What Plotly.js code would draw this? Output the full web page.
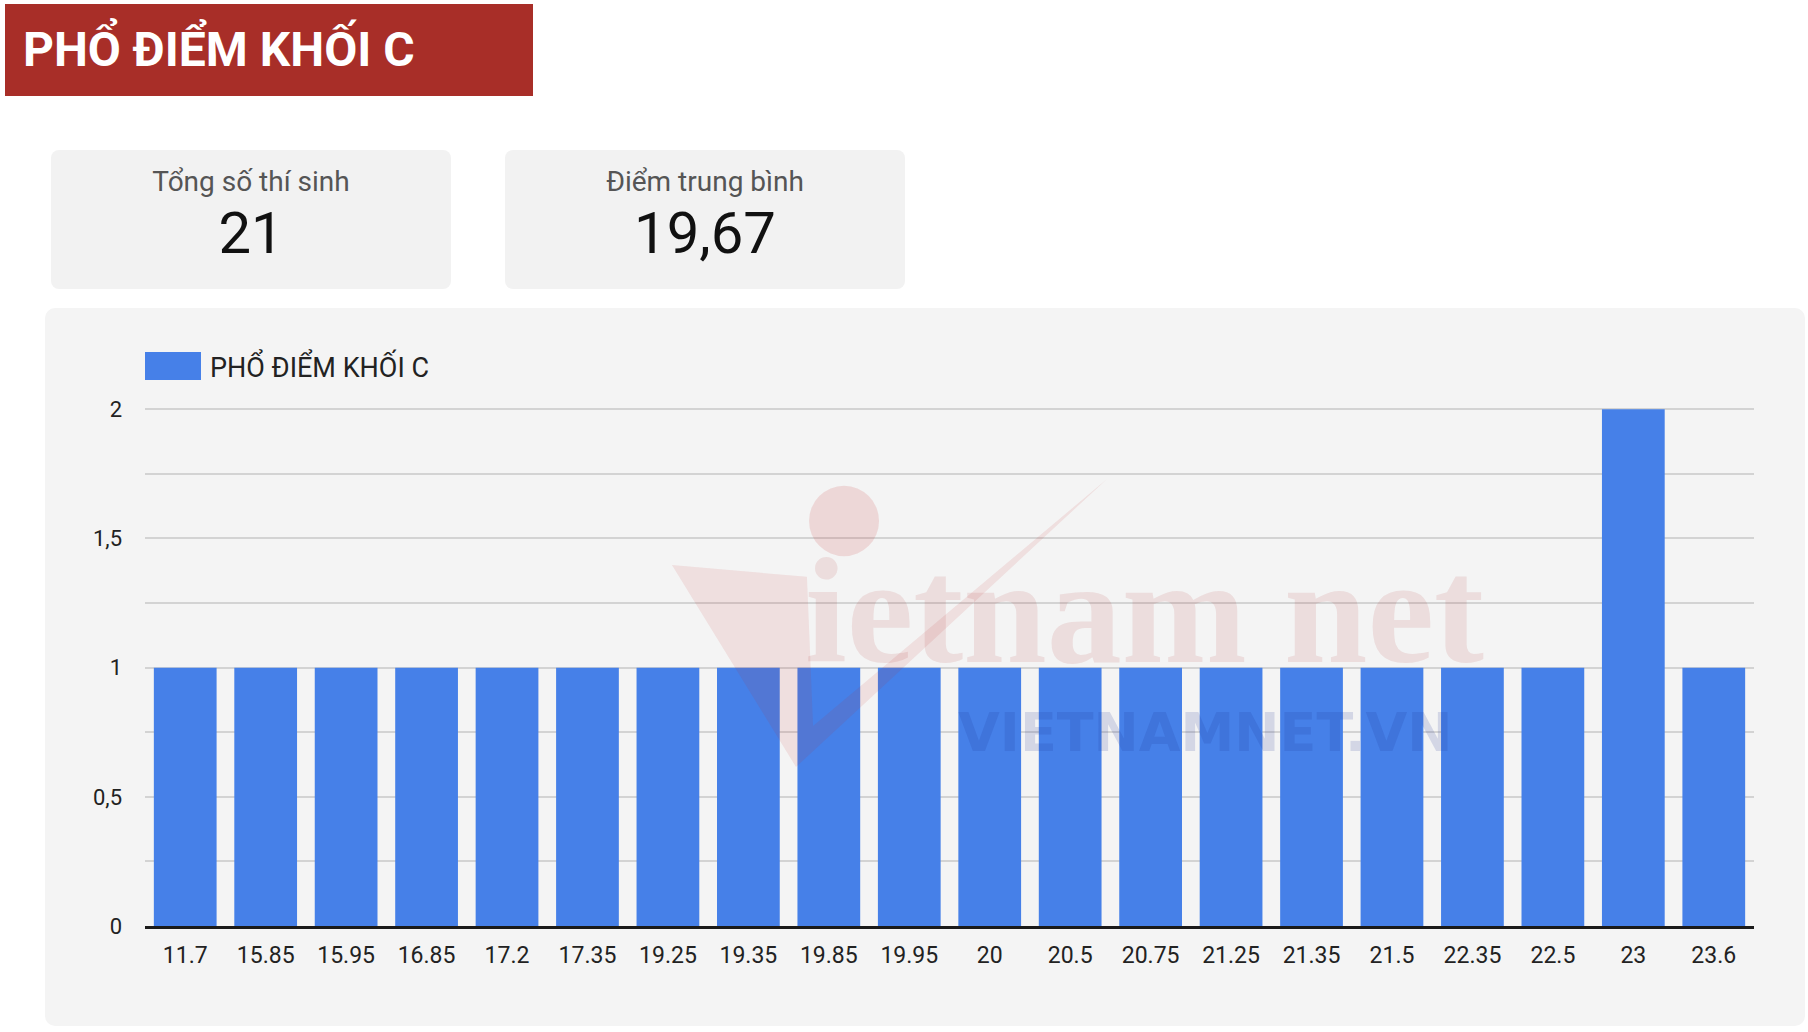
<!DOCTYPE html>
<html>
<head>
<meta charset="utf-8">
<script src="https://cdn.plot.ly/plotly-3.0.1.min.js"></script>
<style>
  html, body { margin:0; padding:0; background:#ffffff; width:1808px; height:1032px; overflow:hidden; font-family: Roboto, "Noto Sans", sans-serif; }
  #banner { position:absolute; left:5px; top:4px; width:528px; height:92px; background:#a82e28; }
  #banner span { position:absolute; left:18px; top:18px; color:#fff; font-weight:700; font-size:48px; line-height:56px; white-space:nowrap; }
  .card { position:absolute; top:150px; width:400px; height:139px; background:#f2f2f2; border-radius:8px; text-align:center; }
  .card .lab { position:absolute; left:0; right:0; top:15px; font-size:28px; color:#555; line-height:34px; }
  .card .val { position:absolute; left:0; right:0; top:50px; font-size:58px; color:#111; line-height:66px; }
  #panel { position:absolute; left:45px; top:308px; width:1760px; height:718px; background:#f4f4f4; border-radius:10px; }
  #chart { position:absolute; left:45px; top:308px; width:1760px; height:718px; }
</style>
</head>
<body>
<div id="banner"><span id="bannerText"></span></div>
<div class="card" style="left:51px;"><div class="lab" id="lab1"></div><div class="val" id="val1"></div></div>
<div class="card" style="left:505px;"><div class="lab" id="lab2"></div><div class="val" id="val2"></div></div>
<div id="panel"></div>
<div id="chart"></div>
<script>
const chartTitle = "PHỔ ĐIỂM KHỐI C";
const seriesName = "PHỔ ĐIỂM KHỐI C";
const cardLabels = ["Tổng số thí sinh", "Điểm trung bình"];
const cardValues = ["21", "19,67"];
const categories = ["11.7","15.85","15.95","16.85","17.2","17.35","19.25","19.35","19.85","19.95","20","20.5","20.75","21.25","21.35","21.5","22.35","22.5","23","23.6"];
const counts = [1,1,1,1,1,1,1,1,1,1,1,1,1,1,1,1,1,1,2,1];
const yTickVals = [0, 0.5, 1, 1.5, 2];
const yTickText = ["0", "0,5", "1", "1,5", "2"];

document.getElementById('bannerText').textContent = chartTitle;
document.getElementById('lab1').textContent = cardLabels[0];
document.getElementById('lab2').textContent = cardLabels[1];
document.getElementById('val1').textContent = cardValues[0];
document.getElementById('val2').textContent = cardValues[1];

const barColor = '#4680e8';

const trace = {
  type: 'bar',
  x: categories,
  y: counts,
  name: seriesName,
  marker: { color: barColor },
  hoverinfo: 'x+y',
  showlegend: false
};

const layout = {
  width: 1760, height: 718,
  margin: { l: 100, r: 51, t: 100, b: 100 },
  paper_bgcolor: 'rgba(0,0,0,0)',
  plot_bgcolor: 'rgba(0,0,0,0)',
  bargap: 0.22,
  font: { family: 'Roboto, sans-serif', size: 22, color: '#222' },
  xaxis: {
    type: 'category',
    showgrid: false,
    showline: true, linecolor: '#1a1a1a', linewidth: 3,
    ticks: '', ticklabelstandoff: 6,
    tickfont: { size: 23, color: '#222' },
    zeroline: false, fixedrange: true
  },
  yaxis: {
    range: [0, 2.005],
    tickvals: yTickVals, ticktext: yTickText,
    showgrid: true, gridcolor: '#d3d3d3', gridwidth: 2,
    minor: { dtick: 0.25, showgrid: true, gridcolor: '#d3d3d3', gridwidth: 2 },
    ticks: '', ticklabelstandoff: 22,
    tickfont: { size: 22, color: '#222' },
    zeroline: false, showline: false, fixedrange: true
  },
  shapes: [
    { type: 'rect', xref: 'paper', yref: 'paper', x0: 0.0, x1: 0.0348, y0: 1.054, y1: 1.108,
      fillcolor: barColor, line: { width: 0 } },
    { type: 'path', xref: 'paper', yref: 'paper',
      path: 'M 0.3275 0.697 L 0.4114 0.674 L 0.4152 0.386 L 0.5979 0.863 L 0.4046 0.307 Z',
      fillcolor: 'rgba(200,40,40,0.10)', line: { width: 0 }, layer: 'above' },
    { type: 'circle', xref: 'paper', yref: 'paper', x0: 0.4127, x1: 0.4562, y0: 0.714, y1: 0.850,
      fillcolor: 'rgba(200,40,40,0.14)', line: { width: 0 }, layer: 'above' }
  ],
  annotations: [
    { xref: 'paper', yref: 'paper', x: 0.0394, y: 1.081, xanchor: 'left', yanchor: 'middle',
      text: seriesName, showarrow: false, font: { size: 27, color: '#222' } },
    { xref: 'paper', yref: 'paper', x: 0.621, y: 0.608, xanchor: 'center', yanchor: 'middle',
      text: 'ietnam net', showarrow: false,
      font: { family: 'Liberation Serif, serif', size: 150, color: 'rgba(170,40,40,0.11)', weight: 700 } },
    { xref: 'paper', yref: 'paper', x: 0.659, y: 0.373, xanchor: 'center', yanchor: 'middle',
      text: '<b>VIETNAMNET.VN</b>', showarrow: false,
      font: { family: 'DejaVu Sans, sans-serif', size: 54, color: 'rgba(30,50,150,0.15)' } }
  ]
};

Plotly.newPlot('chart', [trace], layout, { displayModeBar: false, staticPlot: true });
</script>
</body>
</html>
